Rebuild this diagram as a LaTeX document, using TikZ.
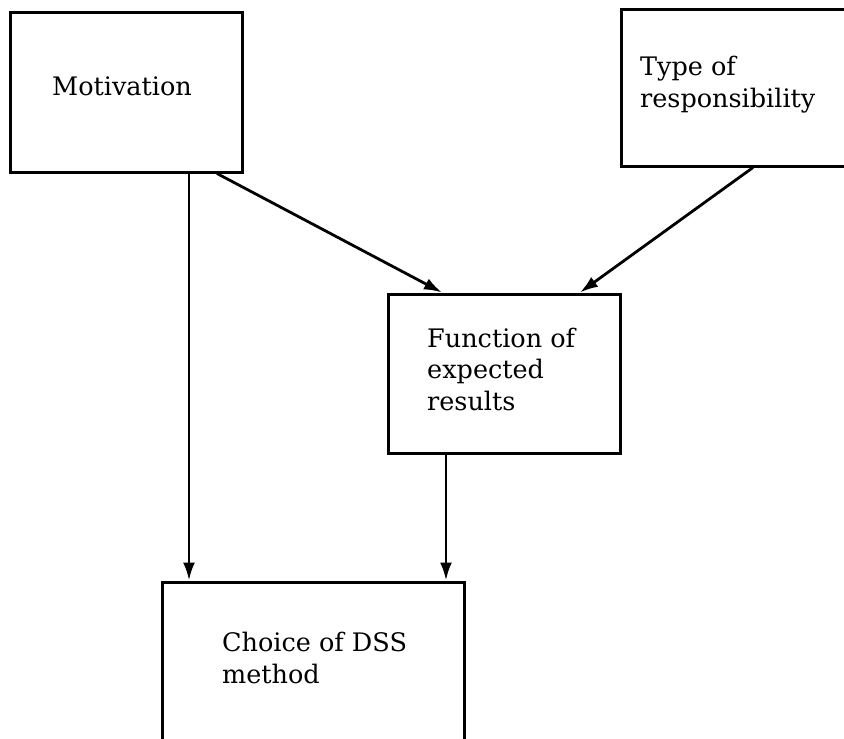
\documentclass[tikz,border=0pt]{standalone}
\usepackage{fontspec}
\setmainfont{DejaVu Serif}
\usetikzlibrary{arrows.meta}
\begin{document}
\begin{tikzpicture}[x=1pt,y=-1pt,
  box/.style={draw, line width=3pt, rectangle, inner sep=0pt},
  lbl/.style={anchor=base west, inner sep=0pt, align=left, font=\fontsize{25.5}{31.5}\selectfont},
  arr/.style={line width=2.8pt, -{Latex[length=18pt,width=12pt]}}]
\useasboundingbox (0,0) rectangle (844,739);
\clip (0,0) rectangle (844,739);
\node[box, minimum width=232pt, minimum height=160pt] (mot) at (126,92) {};
\node[box, minimum width=260pt, minimum height=157pt] (typ) at (751,87.5) {};
\node[box, minimum width=232pt, minimum height=159pt] (fun) at (504,373.5) {};
\node[box, minimum width=302pt, minimum height=200pt] (cho) at (313,682) {};
\node[lbl] (motl) at (52,95) {Motivation};
\node[lbl] (typl) at (640,107) {Type of\\responsibility};
\node[lbl] (funl) at (427,410) {Function of\\expected\\results};
\node[lbl] (chol) at (222,683) {Choice of DSS\\method};
\draw[arr] ([xshift=63pt]mot.south) -- ([xshift=63pt]mot.south |- cho.north);
\draw[arr] ([xshift=91pt]mot.south) -- ([xshift=-62pt]fun.north);
\draw[arr] ([xshift=2pt]typ.south) -- ([xshift=76pt]fun.north);
\draw[arr] ([xshift=-58pt]fun.south) -- ([xshift=-58pt]fun.south |- cho.north);
\end{tikzpicture}
\end{document}
